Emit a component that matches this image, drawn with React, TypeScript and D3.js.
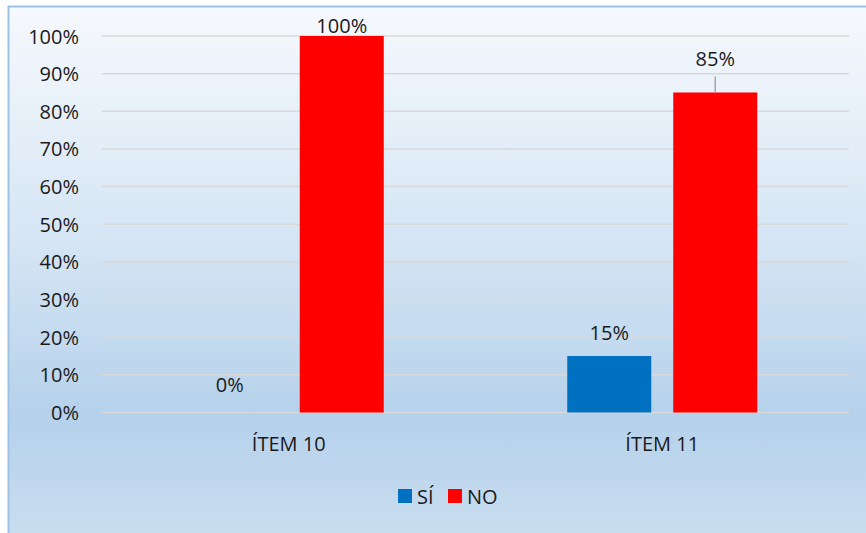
import React from "react";
import * as d3 from "d3";

const categories = ["ÍTEM 10", "ÍTEM 11"];
const seriesNames = ["SÍ", "NO"];
const siValues = [0, 15];
const noValues = [100, 85];
const yTicks = [0, 10, 20, 30, 40, 50, 60, 70, 80, 90, 100];
const colors = ["#0070C0", "#FF0000"];

const W = 866;
const H = 533;
const FONT = "'Open Sans', 'Noto Sans', sans-serif";

export default function App() {
  const x = d3.scaleBand<string>().domain(categories).range([102, 849]);
  const y = d3.scaleLinear().domain([0, 100]).range([412.5, 36]);
  const barW = 84;
  const gap = 22;
  const offsets = [-(gap / 2 + barW / 2), gap / 2 + barW / 2];
  const series = [siValues, noValues];

  return (
    <svg
      width={W}
      height={H}
      style={{ position: "absolute", left: 0, top: 0, display: "block" }}
      fontFamily={FONT}
    >
      <defs>
        <linearGradient id="bg" x1="0" y1="0" x2="0" y2="1">
          <stop offset="0" stopColor="#f6f9fd" />
          <stop offset="0.45" stopColor="#d5e5f4" />
          <stop offset="0.78" stopColor="#b5d1eb" />
          <stop offset="1" stopColor="#c9ddf0" />
        </linearGradient>
      </defs>
      <rect x={0} y={0} width={W} height={H} fill="#ffffff" />
      <rect x={9} y={7} width={W - 9} height={H - 7} fill="url(#bg)" />
      <line x1={8} x2={W} y1={6.5} y2={6.5} stroke="#9cc3e6" strokeWidth={2} />
      <line x1={8.5} x2={8.5} y1={6} y2={H} stroke="#9cc3e6" strokeWidth={2} />

      {yTicks.map((t) => (
        <g key={t}>
          <line x1={102} x2={849} y1={y(t)} y2={y(t)} stroke="#d9d9d9" strokeWidth={1.5} />
          <text
            x={79}
            y={y(t)}
            textAnchor="end"
            dominantBaseline="central"
            fontSize={20}
            fill="#1a1a1a"
          >
            {t}%
          </text>
        </g>
      ))}

      {categories.map((c, ci) => {
        const cx = (x(c) as number) + x.bandwidth() / 2;
        return (
          <g key={c}>
            {series.map((vals, si) => {
              const v = vals[ci];
              const bx = cx + offsets[si] - barW / 2;
              return (
                <rect
                  key={si}
                  x={bx}
                  y={y(v)}
                  width={barW}
                  height={y(0) - y(v)}
                  fill={colors[si]}
                />
              );
            })}
            <text
              x={cx}
              y={443}
              textAnchor="middle"
              dominantBaseline="central"
              fontSize={20}
              fill="#1a1a1a"
            >
              {c}
            </text>
          </g>
        );
      })}

      {/* value labels */}
      {categories.map((c, ci) => {
        const cx = (x(c) as number) + x.bandwidth() / 2;
        return series.map((vals, si) => {
          const v = vals[ci];
          const lx = cx + offsets[si] + (v === 0 ? -6 : 0);
          let ly = y(v) - 24;
          let leader: React.ReactNode = null;
          if (v === 0) ly = y(v) - 28;
          else if (v === 100) ly = y(v) - 11;
          else if (si === 1) {
            ly = y(v) - 34;
            leader = (
              <line
                x1={cx + offsets[si]}
                x2={cx + offsets[si]}
                y1={y(v) - 16}
                y2={y(v)}
                stroke="#a6a6a6"
                strokeWidth={1.5}
              />
            );
          }
          return (
            <g key={`${ci}-${si}`}>
              {leader}
              <text
                x={lx}
                y={ly}
                textAnchor="middle"
                dominantBaseline="central"
                fontSize={20}
                fill="#1a1a1a"
              >
                {v}%
              </text>
            </g>
          );
        });
      })}

      {/* legend */}
      {seriesNames.map((n, i) => {
        const lx = [398, 448][i];
        return (
          <g key={n}>
            <rect x={lx} y={489} width={14} height={14} fill={colors[i]} />
            <text
              x={lx + 19}
              y={496}
              dominantBaseline="central"
              fontSize={20}
              fill="#1a1a1a"
            >
              {n}
            </text>
          </g>
        );
      })}
    </svg>
  );
}
